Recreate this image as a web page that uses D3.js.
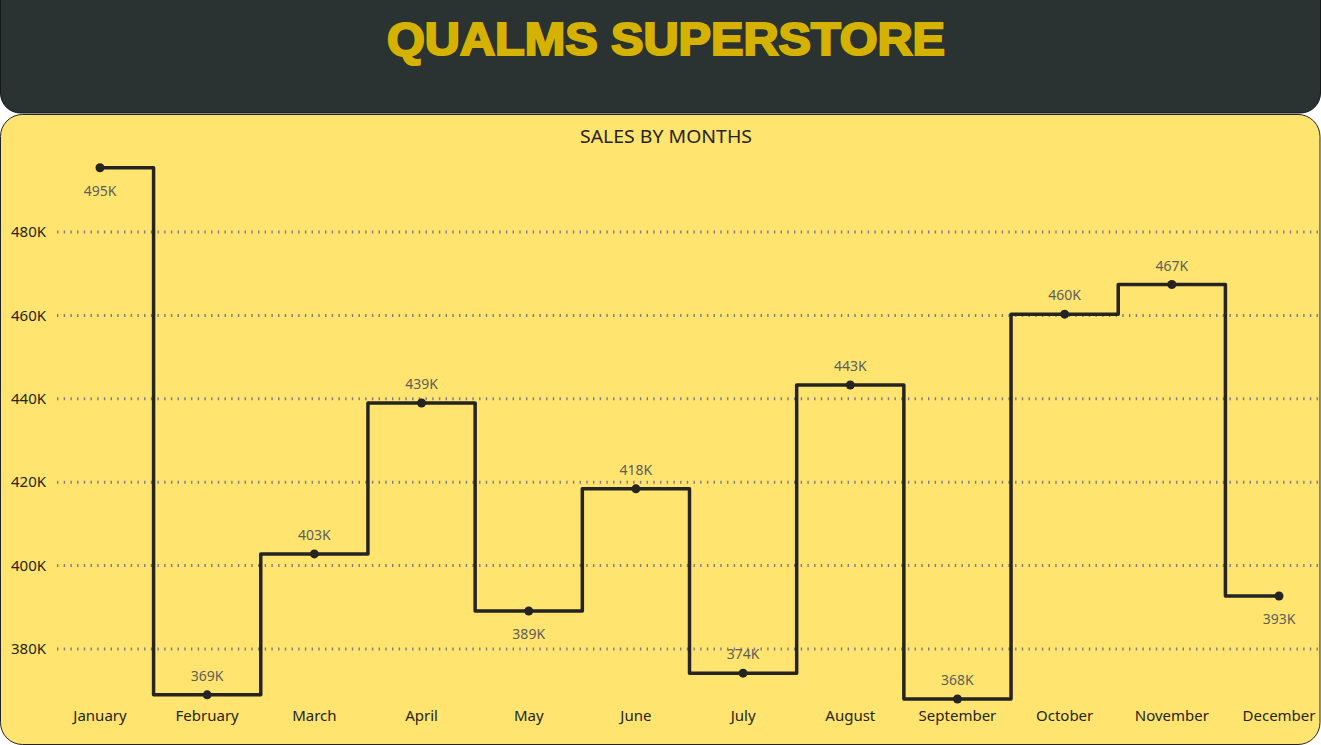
<!DOCTYPE html>
<html lang="en">
<head>
    <meta charset="UTF-8">
    <title>Qualms Superstore</title>
    <script src="https://cdn.jsdelivr.net/npm/d3@7"></script>
    <style>
        body { margin: 0; background: #ffffff; }
    </style>
</head>
<body>

<script>
    // sales by month, in thousands
    var months = ["January", "February", "March", "April", "May", "June",
        "July", "August", "September", "October", "November", "December"];
    var sales = [495.4, 369.0, 402.8, 439.0, 389.1, 418.4, 374.2, 443.3, 368.0, 460.3, 467.4, 392.7];
    var labelSide = ["below", "above", "above", "above", "below", "above",
        "above", "above", "above", "above", "above", "below"];
    var yTicks = [380, 400, 420, 440, 460, 480];

    var width = 1321,
        height = 745;

    var svg = d3.select("body").append("svg")
        .attr("width", width)
        .attr("height", height);

    // header
    svg.append("rect")
        .attr("x", 0.5)
        .attr("y", -30)
        .attr("width", width - 1)
        .attr("height", 143)
        .attr("rx", 20)
        .attr("fill", "#2b3232")
        .attr("stroke", "#151818");

    svg.append("text")
        .attr("x", 666)
        .attr("y", 55)
        .attr("text-anchor", "middle")
        .attr("font-family", "Liberation Sans, Arial, sans-serif")
        .attr("font-weight", "900")
        .attr("font-size", 46)
        .attr("fill", "#d6b200")
        .attr("stroke", "#d6b200")
        .attr("stroke-width", 2.2)
        .attr("textLength", 558)
        .attr("lengthAdjust", "spacingAndGlyphs")
        .text("QUALMS SUPERSTORE");

    // chart panel
    svg.append("rect")
        .attr("x", 0.5)
        .attr("y", 114.5)
        .attr("width", width - 1.5)
        .attr("height", 630)
        .attr("rx", 22)
        .attr("fill", "#ffe470")
        .attr("stroke", "#252423");

    svg.append("text")
        .attr("x", 666)
        .attr("y", 143)
        .attr("text-anchor", "middle")
        .attr("font-family", "Noto Sans, sans-serif")
        .attr("font-size", 18)
        .attr("fill", "#252423")
        .attr("textLength", 172)
        .attr("lengthAdjust", "spacingAndGlyphs")
        .text("SALES BY MONTHS");

    var x = d3.scaleBand()
        .domain(months)
        .range([46.4, 1332.6]);

    var y = d3.scaleLinear()
        .domain([380, 480])
        .range([649, 232]);

    // gridlines + y labels
    var grid = svg.append("g");
    grid.selectAll("line")
        .data(yTicks)
        .enter()
        .append("line")
        .attr("x1", 57)
        .attr("x2", width)
        .attr("y1", function (d) { return y(d); })
        .attr("y2", function (d) { return y(d); })
        .attr("stroke", "#7c7b8c")
        .attr("stroke-width", 3)
        .attr("stroke-dasharray", "1.4 5.3");

    grid.selectAll("text")
        .data(yTicks)
        .enter()
        .append("text")
        .attr("x", 46)
        .attr("y", function (d) { return y(d); })
        .attr("dy", "0.35em")
        .attr("text-anchor", "end")
        .attr("font-family", "Noto Sans, sans-serif")
        .attr("font-size", 15)
        .attr("fill", "#252423")
        .text(function (d) { return d + "K"; });

    // x labels
    svg.append("g").selectAll("text")
        .data(months)
        .enter()
        .append("text")
        .attr("x", function (d) { return x(d) + x.bandwidth() / 2; })
        .attr("y", 721)
        .attr("text-anchor", "middle")
        .attr("font-family", "Noto Sans, sans-serif")
        .attr("font-size", 15)
        .attr("fill", "#252423")
        .text(function (d) { return d; });

    var pts = months.map(function (m, i) {
        return { month: m, value: sales[i], side: labelSide[i] };
    });

    var line = d3.line()
        .x(function (d) { return x(d.month) + x.bandwidth() / 2; })
        .y(function (d) { return y(d.value); })
        .curve(d3.curveStep);

    svg.append("path")
        .datum(pts)
        .attr("d", line)
        .attr("fill", "none")
        .attr("stroke", "#252423")
        .attr("stroke-width", 3.5)
        .attr("stroke-linejoin", "round");

    svg.append("g").selectAll("circle")
        .data(pts)
        .enter()
        .append("circle")
        .attr("cx", function (d) { return x(d.month) + x.bandwidth() / 2; })
        .attr("cy", function (d) { return y(d.value); })
        .attr("r", 4.5)
        .attr("fill", "#252423");

    svg.append("g").selectAll("text")
        .data(pts)
        .enter()
        .append("text")
        .attr("x", function (d) { return x(d.month) + x.bandwidth() / 2; })
        .attr("y", function (d) { return y(d.value) + (d.side === "above" ? -14 : 28); })
        .attr("text-anchor", "middle")
        .attr("font-family", "Noto Sans, sans-serif")
        .attr("font-size", 14)
        .attr("fill", "#605e5c")
        .text(function (d) { return Math.round(d.value) + "K"; });
</script>

</body>
</html>
